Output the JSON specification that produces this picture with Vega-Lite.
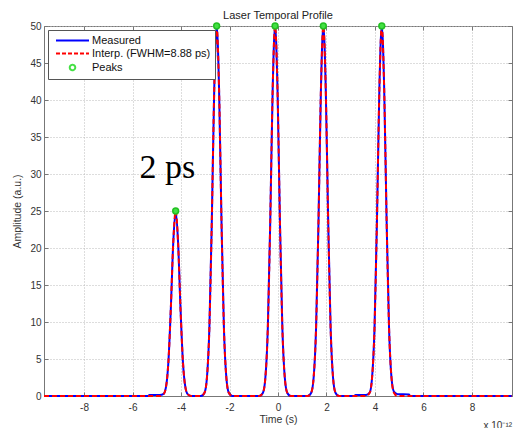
{
  "$schema": "https://vega.github.io/schema/vega-lite/v6.json",
  "width": 468,
  "height": 370,
  "autosize": "none",
  "padding": {"left": 44, "top": 26, "right": 1, "bottom": 32},
  "background": "white",
  "title": {"text": "Laser Temporal Profile", "fontSize": 11, "font": "Liberation Sans", "fontWeight": "normal", "color": "#222", "offset": 8, "dy": 9, "anchor": "middle"},
  "datasets": {
    "curve": [
      {"t": -9.65, "m": 0, "i": 0},
      {"t": -5.35, "m": 0, "i": 0},
      {"t": -5.3, "m": 0.15, "i": 0},
      {"t": -4.87, "m": 0.15, "i": 0},
      {"t": -4.72, "m": 0.3, "i": 0.22},
      {"t": -4.62, "m": 1.2, "i": 1.2},
      {"t": -4.52, "m": 4.6, "i": 4.6},
      {"t": -4.42, "m": 11.8, "i": 11.8},
      {"t": -4.32, "m": 20.7, "i": 20.7},
      {"t": -4.22, "m": 25, "i": 25},
      {"t": -4.12, "m": 20.7, "i": 20.7},
      {"t": -4.02, "m": 11.8, "i": 11.8},
      {"t": -3.92, "m": 4.6, "i": 4.6},
      {"t": -3.82, "m": 1.2, "i": 1.2},
      {"t": -3.72, "m": 0.22, "i": 0.22},
      {"t": -3.57, "m": 0, "i": 0},
      {"t": -3.18, "m": 0, "i": 0},
      {"t": -3.03, "m": 0.45, "i": 0.45},
      {"t": -2.93, "m": 2.5, "i": 2.5},
      {"t": -2.83, "m": 9.2, "i": 9.2},
      {"t": -2.73, "m": 23.6, "i": 23.6},
      {"t": -2.63, "m": 41.4, "i": 41.4},
      {"t": -2.53, "m": 50, "i": 50},
      {"t": -2.43, "m": 41.4, "i": 41.4},
      {"t": -2.33, "m": 23.6, "i": 23.6},
      {"t": -2.23, "m": 9.2, "i": 9.2},
      {"t": -2.13, "m": 2.5, "i": 2.5},
      {"t": -2.03, "m": 0.45, "i": 0.45},
      {"t": -1.88, "m": 0, "i": 0},
      {"t": -0.77, "m": 0, "i": 0},
      {"t": -0.62, "m": 0.45, "i": 0.45},
      {"t": -0.52, "m": 2.5, "i": 2.5},
      {"t": -0.42, "m": 9.2, "i": 9.2},
      {"t": -0.32, "m": 23.6, "i": 23.6},
      {"t": -0.22, "m": 41.4, "i": 41.4},
      {"t": -0.12, "m": 50, "i": 50},
      {"t": -0.02, "m": 41.4, "i": 41.4},
      {"t": 0.08, "m": 23.6, "i": 23.6},
      {"t": 0.18, "m": 9.2, "i": 9.2},
      {"t": 0.28, "m": 2.5, "i": 2.5},
      {"t": 0.38, "m": 0.45, "i": 0.45},
      {"t": 0.53, "m": 0, "i": 0},
      {"t": 1.22, "m": 0, "i": 0},
      {"t": 1.37, "m": 0.45, "i": 0.45},
      {"t": 1.47, "m": 2.5, "i": 2.5},
      {"t": 1.57, "m": 9.2, "i": 9.2},
      {"t": 1.67, "m": 23.6, "i": 23.6},
      {"t": 1.77, "m": 41.4, "i": 41.4},
      {"t": 1.87, "m": 50, "i": 50},
      {"t": 1.97, "m": 41.4, "i": 41.4},
      {"t": 2.07, "m": 23.6, "i": 23.6},
      {"t": 2.17, "m": 9.2, "i": 9.2},
      {"t": 2.27, "m": 2.5, "i": 2.5},
      {"t": 2.37, "m": 0.45, "i": 0.45},
      {"t": 2.52, "m": 0, "i": 0},
      {"t": 3.15, "m": 0, "i": 0},
      {"t": 3.2, "m": 0.15, "i": 0},
      {"t": 3.63, "m": 0.15, "i": 0},
      {"t": 3.78, "m": 0.45, "i": 0.45},
      {"t": 3.88, "m": 2.5, "i": 2.5},
      {"t": 3.98, "m": 9.2, "i": 9.2},
      {"t": 4.08, "m": 23.6, "i": 23.6},
      {"t": 4.18, "m": 41.4, "i": 41.4},
      {"t": 4.28, "m": 50, "i": 50},
      {"t": 4.38, "m": 41.4, "i": 41.4},
      {"t": 4.48, "m": 23.6, "i": 23.6},
      {"t": 4.58, "m": 9.2, "i": 9.2},
      {"t": 4.68, "m": 2.5, "i": 2.5},
      {"t": 4.78, "m": 0.6, "i": 0.45},
      {"t": 4.93, "m": 0.25, "i": 0},
      {"t": 5.4, "m": 0.2, "i": 0},
      {"t": 5.45, "m": 0, "i": 0},
      {"t": 9.65, "m": 0, "i": 0}
    ],
    "peaks": [
      {"t": -4.22, "amp": 25},
      {"t": -2.53, "amp": 50},
      {"t": -0.12, "amp": 50},
      {"t": 1.87, "amp": 50},
      {"t": 4.28, "amp": 50}
    ],
    "notes": [
      {"t": -4.56, "amp": 29.5, "label": "2 ps"}
    ]
  },
  "config": {
    "view": {"stroke": "#777", "strokeWidth": 1},
    "axis": {
      "labelFont": "Liberation Sans",
      "labelFontSize": 10,
      "labelColor": "#333",
      "titleFont": "Liberation Sans",
      "titleFontSize": 10.5,
      "titleFontWeight": "normal",
      "titleColor": "#333",
      "domainColor": "#777",
      "tickColor": "#777",
      "gridColor": "#bbb",
      "gridDash": [1, 2],
      "tickSize": -4
    }
  },
  "layer": [
    {
      "data": {"name": "curve"},
      "mark": {"type": "line", "strokeWidth": 2, "interpolate": "monotone"},
      "encoding": {
        "x": {"field": "t", "type": "quantitative",
          "scale": {"domain": [-9.65, 9.65], "nice": false, "zero": false},
          "axis": {"orient": "bottom", "values": [-8, -6, -4, -2, 0, 2, 4, 6, 8], "grid": true, "title": "Time (s)", "labelPadding": 10, "titlePadding": 2, "labelExpr": "replace(datum.label, '−', '-')"}},
        "y": {"field": "m", "type": "quantitative",
          "scale": {"domain": [0, 50], "nice": false},
          "axis": {"orient": "left", "values": [0, 5, 10, 15, 20, 25, 30, 35, 40, 45, 50], "grid": true, "title": "Amplitude (a.u.)", "labelPadding": 7, "titlePadding": 7}},
        "color": {"datum": "Measured", "type": "nominal",
          "scale": {"domain": ["Measured", "Interp. (FWHM=8.88 ps)", "Peaks"], "range": ["#0000ff", "#ff0000", "#44e044"]},
          "legend": {
            "orient": "top-left", "offset": 4, "title": null,
            "fillColor": "white", "strokeColor": "#555", "padding": 4,
            "labelFont": "Liberation Sans", "labelFontSize": 11, "labelColor": "#111",
            "symbolSize": 121, "symbolOffset": 14, "labelOffset": 13, "rowPadding": 1,
            "encode": {"symbols": {"update": {
              "shape": {"signal": "datum.value === 'Peaks' ? 'M-0.5,0A0.5,0.5,0,1,1,0.5,0A0.5,0.5,0,1,1,-0.5,0Z' : 'M-3,0H3'"},
              "strokeDash": {"signal": "datum.value === 'Interp. (FWHM=8.88 ps)' ? [4, 2] : [1, 0]"},
              "stroke": {"signal": "datum.value === 'Measured' ? '#0000ff' : (datum.value === 'Peaks' ? '#22cc22' : '#ff0000')"},
              "fill": {"value": "white"},
              "fillOpacity": {"value": 0},
              "strokeWidth": {"value": 2}
            }}}
          }}
      }
    },
    {
      "data": {"name": "curve"},
      "mark": {"type": "line", "strokeWidth": 2, "strokeDash": [5, 3], "interpolate": "monotone"},
      "encoding": {
        "x": {"field": "t", "type": "quantitative", "scale": {"domain": [-9.65, 9.65], "nice": false, "zero": false}, "axis": null},
        "y": {"field": "i", "type": "quantitative", "scale": {"domain": [0, 50], "nice": false}, "axis": null},
        "color": {"datum": "Interp. (FWHM=8.88 ps)", "type": "nominal"}
      }
    },
    {
      "data": {"name": "peaks"},
      "mark": {"type": "point", "shape": "circle", "filled": true, "stroke": "#22c022", "strokeWidth": 1.5, "size": 34, "opacity": 1},
      "encoding": {
        "x": {"field": "t", "type": "quantitative", "scale": {"domain": [-9.65, 9.65], "nice": false, "zero": false}, "axis": null},
        "y": {"field": "amp", "type": "quantitative", "scale": {"domain": [0, 50], "nice": false}, "axis": null},
        "color": {"datum": "Peaks", "type": "nominal"}
      }
    },
    {
      "data": {"name": "notes"},
      "mark": {"type": "text", "font": "Liberation Serif", "fontSize": 34, "align": "center", "baseline": "alphabetic", "color": "black"},
      "encoding": {
        "x": {"field": "t", "type": "quantitative", "scale": {"domain": [-9.65, 9.65], "nice": false, "zero": false},
          "axis": {"orient": "top", "values": [-8, -6, -4, -2, 0, 2, 4, 6, 8], "labels": false, "grid": false, "domain": false,
            "title": "x 10⁻¹²", "titleX": 439, "titleY": 402, "titleAlign": "left", "titleAnchor": "start", "titleBaseline": "alphabetic", "titleFontSize": 10, "titleColor": "#333"}},
        "y": {"field": "amp", "type": "quantitative", "scale": {"domain": [0, 50], "nice": false},
          "axis": {"orient": "right", "values": [0, 5, 10, 15, 20, 25, 30, 35, 40, 45, 50], "labels": false, "grid": false, "domain": false, "title": null}},
        "text": {"field": "label"}
      }
    }
  ],
  "resolve": {"axis": {"x": "independent", "y": "independent"}}
}
